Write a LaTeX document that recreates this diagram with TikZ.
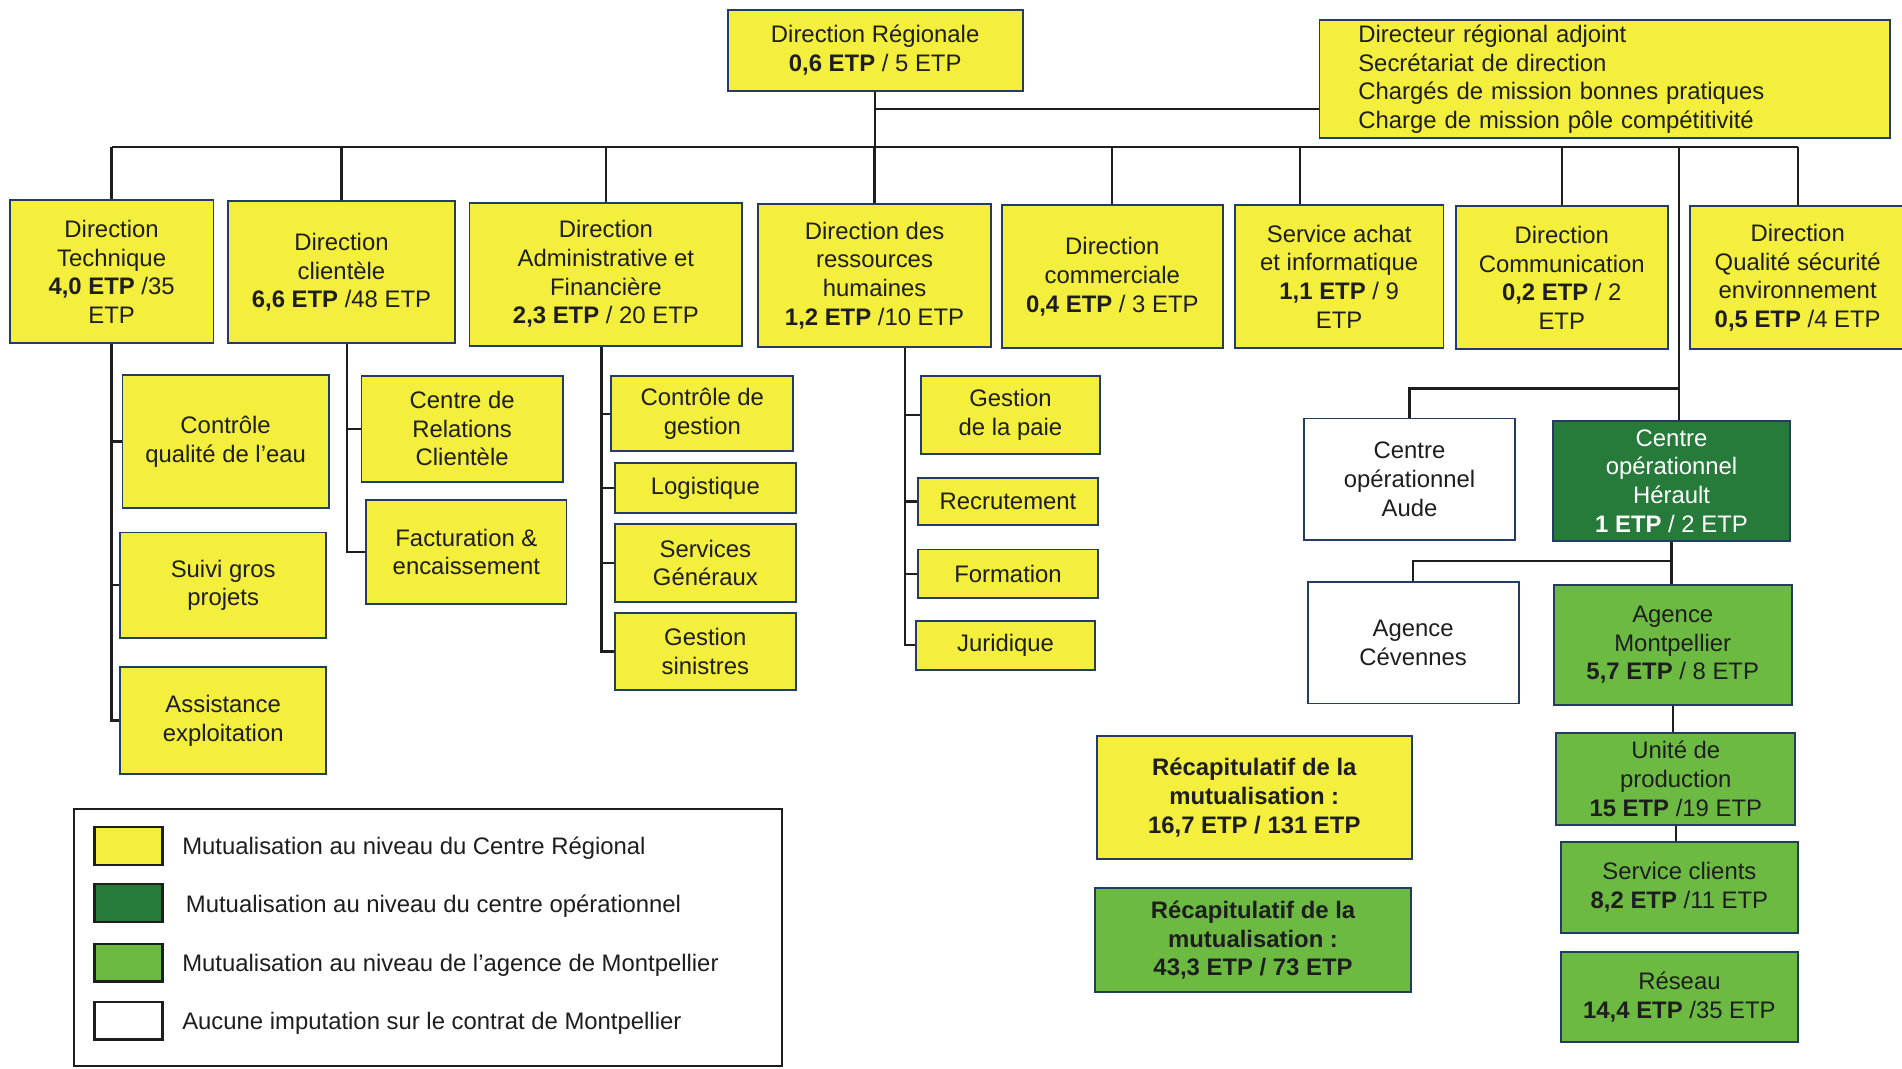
\documentclass[tikz,border=0pt]{standalone}
\usepackage{fontspec}
\setmainfont{Liberation Sans}
\usepackage{xcolor}
\usepackage{tikz}
\definecolor{yelfill}{RGB}{243,239,60}
\definecolor{dkgreen}{RGB}{38,122,58}
\definecolor{ltgreen}{RGB}{108,186,66}
\definecolor{boxline}{RGB}{35,60,100}
\definecolor{ink}{RGB}{30,30,30}

\begin{document}
\begin{tikzpicture}[x=0.025cm, y=-0.025cm, font=\fontsize{14}{16.8}\selectfont,
    boxspan/.style n args={4}{at={({(#1+#3)/2},{(#2+#4)/2})},
        minimum width={(#3-#1)*0.025cm}, minimum height={(#4-#2)*0.025cm}},
    orgbox/.style={draw=boxline, line width=1.1pt, inner sep=0pt, align=center, text=ink},
    yel/.style={orgbox, fill=yelfill},
    dkg/.style={orgbox, fill=dkgreen, text=white},
    ltg/.style={orgbox, fill=ltgreen},
    wht/.style={orgbox, fill=white},
    swatch/.style={draw=ink, line width=1.4pt, inner sep=0pt},
    link/.style={line width=1.3pt, draw=ink}]
    \fill[white] (0,0) rectangle (1568,881);
    \useasboundingbox (0,0) rectangle (1568,881);
    % Direction regionale
    \node[yel, boxspan={600}{8}{843}{75}] (dr) {Direction Régionale\\\textbf{0,6 ETP} / 5 ETP};
    \node[yel, anchor=north west, minimum width=11.75cm, minimum height=2.425cm,
        text width=10.15cm, inner xsep=0.8cm, align=left] (adj) at (1087,16)
        {Directeur régional adjoint\\Secrétariat de direction\\Chargés de mission bonnes pratiques\\Charge de mission pôle compétitivité};
    % Directions
    \node[yel, boxspan={8}{165}{176}{283}] (dt) {Direction\\Technique\\\textbf{4,0 ETP} /35\\ETP};
    \node[yel, boxspan={188}{166}{375}{283}] (dc) {Direction\\clientèle\\\textbf{6,6 ETP} /48 ETP};
    \node[yel, boxspan={387}{167}{612}{285}] (daf) {Direction\\Administrative et\\Financière\\\textbf{2,3 ETP} / 20 ETP};
    \node[yel, boxspan={625}{168}{817}{286}] (drh) {Direction des\\ressources\\humaines\\\textbf{1,2 ETP} /10 ETP};
    \node[yel, boxspan={826}{169}{1008}{287}] (dcom) {Direction\\commerciale\\\textbf{0,4 ETP} / 3 ETP};
    \node[yel, boxspan={1018}{169}{1190}{287}] (sai) {Service achat\\et informatique\\\textbf{1,1 ETP} / 9\\ETP};
    \node[yel, boxspan={1200}{170}{1375}{288}] (dcomm) {Direction\\Communication\\\textbf{0,2 ETP} / 2\\ETP};
    \node[yel, boxspan={1393}{170}{1571}{288}] (dqse) {Direction\\Qualité sécurité\\environnement\\\textbf{0,5 ETP} /4 ETP};
    % Services
    \node[yel, boxspan={101}{309}{271}{419}] (cqe) {Contrôle\\qualité de l’eau};
    \node[yel, boxspan={99}{439}{269}{526}] (sgp) {Suivi gros\\projets};
    \node[yel, boxspan={99}{550}{269}{638}] (ae) {Assistance\\exploitation};
    \node[yel, boxspan={298}{310}{464}{397}] (crc) {Centre de\\Relations\\Clientèle};
    \node[yel, boxspan={302}{412}{467}{498}] (fe) {Facturation \&\\encaissement};
    \node[yel, boxspan={504}{310}{654}{372}] (cg) {Contrôle de\\gestion};
    \node[yel, boxspan={507}{382}{656}{423}] (log) {Logistique};
    \node[yel, boxspan={507}{432}{656}{496}] (sg) {Services\\Généraux};
    \node[yel, boxspan={507}{505}{656}{569}] (gs) {Gestion\\sinistres};
    \node[yel, boxspan={759}{310}{907}{374}] (gp) {Gestion\\de la paie};
    \node[yel, boxspan={757}{394}{905}{433}] (rec) {Recrutement};
    \node[yel, boxspan={757}{453}{905}{493}] (form) {Formation};
    \node[yel, boxspan={755}{512}{903}{552}] (jur) {Juridique};
    % Centres operationnels et agences
    \node[wht, boxspan={1075}{345}{1249}{445}] (coa) {Centre\\opérationnel\\Aude};
    \node[dkg, boxspan={1280}{347}{1476}{446}] (coh) {Centre\\opérationnel\\Hérault\\\textbf{1 ETP} / 2 ETP};
    \node[wht, boxspan={1078}{480}{1252}{580}] (ac) {Agence\\Cévennes};
    \node[ltg, boxspan={1281}{482}{1477}{581}] (am) {Agence\\Montpellier\\\textbf{5,7 ETP} / 8 ETP};
    \node[ltg, boxspan={1283}{604}{1480}{680}] (up) {Unité de\\production\\\textbf{15 ETP} /19 ETP};
    \node[ltg, boxspan={1287}{694}{1482}{769}] (sc) {Service clients\\\textbf{8,2 ETP} /11 ETP};
    \node[ltg, boxspan={1287}{785}{1482}{859}] (res) {Réseau\\\textbf{14,4 ETP} /35 ETP};
    % Recapitulatifs
    \node[yel, font=\fontsize{14}{16.8}\selectfont\bfseries, boxspan={904}{607}{1164}{708}] (recy) {Récapitulatif de la\\mutualisation :\\16,7 ETP / 131 ETP};
    \node[ltg, font=\fontsize{14}{16.8}\selectfont\bfseries, boxspan={903}{732}{1163}{818}] (recg) {Récapitulatif de la\\mutualisation :\\43,3 ETP / 73 ETP};
    % Legende
    \node[draw=ink, line width=1.1pt, inner sep=0pt, boxspan={61}{667}{645}{879}] (leg) {};
    \node[swatch, fill=yelfill, boxspan={78}{682}{134}{713}] (sw1) {};
    \node[swatch, fill=dkgreen, boxspan={78}{729}{134}{760}] (sw2) {};
    \node[swatch, fill=ltgreen, boxspan={78}{778}{134}{809}] (sw3) {};
    \node[swatch, fill=white, boxspan={78}{826}{134}{857}] (sw4) {};
    \node[anchor=west, inner sep=0pt, text=ink] (lt1) at (150,699) {Mutualisation au niveau du Centre Régional};
    \node[anchor=west, inner sep=0pt, text=ink] (lt2) at (153,747) {Mutualisation au niveau du centre opérationnel};
    \node[anchor=west, inner sep=0pt, text=ink] (lt3) at (150,796) {Mutualisation au niveau de l’agence de Montpellier};
    \node[anchor=west, inner sep=0pt, text=ink] (lt4) at (150,844) {Aucune imputation sur le contrat de Montpellier};
    % Liaisons
    \coordinate (busL) at (0,121);
    \coordinate (adjin) at (1087,90);
    \draw[link] (dr.south) -- (dr.south |- busL);
    \draw[link] (adjin -| dr.south) -- (adjin);
    \draw[link] (dt.north |- busL) -- (dqse.north |- busL);
    \foreach \d in {dt,dc,daf,drh,dcom,dcomm,dqse}
        \draw[link] (\d.north) -- (\d.north |- busL);
    \draw[link] ([xshift=-0.8cm]sai.north) -- ([xshift=-0.8cm]sai.north |- busL);
    \draw[link] (dt.south) |- (ae.west);
    \foreach \s in {cqe,sgp}
        \draw[link] (dt.south |- \s.west) -- (\s.west);
    \coordinate (tdc) at ([xshift=0.11cm]dc.south);
    \draw[link] (tdc) |- (fe.west);
    \draw[link] (tdc |- crc.west) -- (crc.west);
    \coordinate (tdaf) at ([xshift=-0.09cm]daf.south);
    \draw[link] (tdaf) |- (gs.west);
    \foreach \s in {cg,log,sg}
        \draw[link] (tdaf |- \s.west) -- (\s.west);
    \coordinate (tdrh) at ([xshift=0.625cm]drh.south);
    \draw[link] (tdrh) |- (jur.west);
    \foreach \s in {gp,rec,form}
        \draw[link] (tdrh |- \s.west) -- (\s.west);
    \draw[link] ([xshift=0.15cm]coh.north) -- ([xshift=0.15cm]coh.north |- busL);
    \draw[link] (coa.north) -- ++(0,-24) -| ([xshift=0.15cm]coh.north);
    \draw[link] (coh.south) -- (coh.south |- am.north);
    \draw[link] (ac.north) -- ++(0,-17) -| (coh.south);
    \draw[link] (am.south) -- (am.south |- up.north);
    \draw[link] (up.south) -- (up.south |- sc.north);
\end{tikzpicture}
\end{document}
